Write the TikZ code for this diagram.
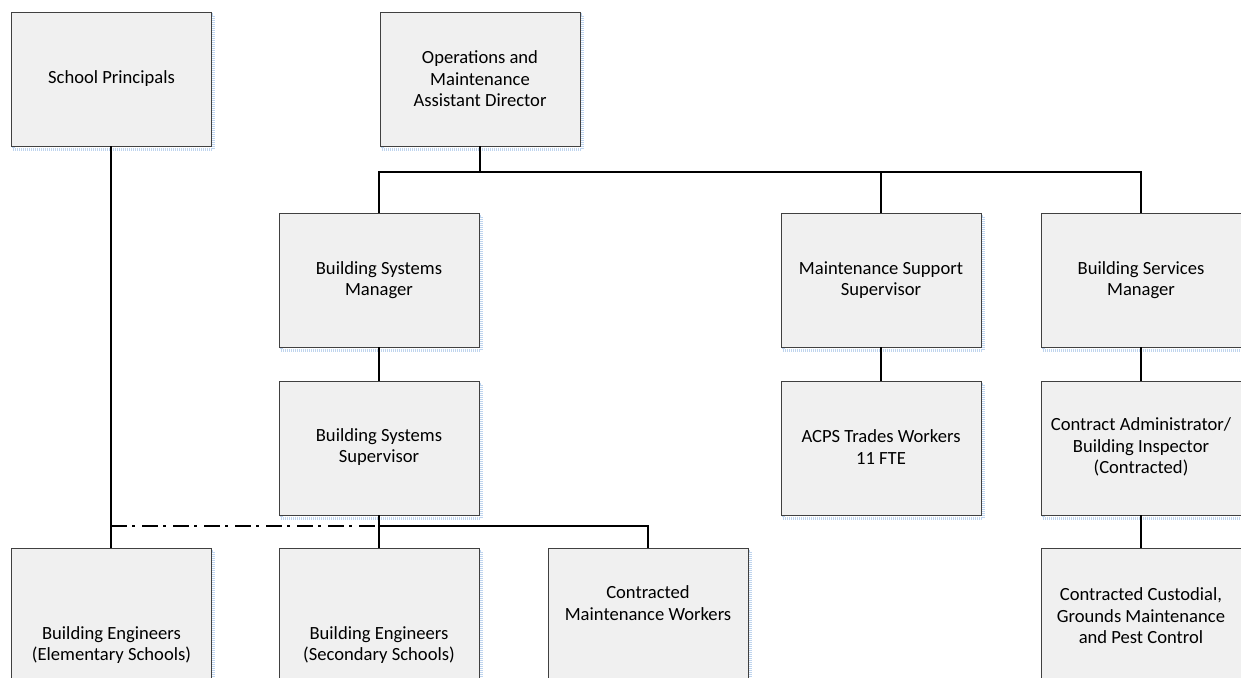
\documentclass[tikz,border=0pt]{standalone}
\usepackage{fontspec}
\setmainfont{Carlito}
\definecolor{boxfill}{RGB}{240,240,240}
\definecolor{boxline}{RGB}{64,64,64}
\definecolor{shadowblue}{RGB}{190,212,238}
\tikzset{
  orgbox/.style={draw=boxline, fill=boxfill, line width=0.8pt,
    minimum width=200pt, minimum height=#1, inner sep=0pt, outer sep=0pt,
    anchor=north west,
    preaction={draw=shadowblue, line width=3pt, dash pattern=on 1pt off 1pt,
      transform canvas={shift={(2pt,-3pt)}}}},
  orgbox/.default=134pt,
  orgtext/.style={align=center, inner sep=0pt,
    font=\fontsize{18.6}{21.5}\selectfont},
  link/.style={draw=black, line width=1.6pt},
  dotted link/.style={draw=black, line width=2.8pt,
    dash pattern=on 16pt off 5pt on 3pt off 7pt}
}
\begin{document}
\begin{tikzpicture}[x=1pt,y=-1pt]
\useasboundingbox (0,0) rectangle (1241,677);

% top row
\node[orgbox] (sp) at (11,12) {};
\node[orgtext] (spT) at (111.5,79) {School Principals};
\node[orgbox] (ops) at (380,12) {};
\node[orgtext] (opsT) at (480,79) {Operations and\\Maintenance\\Assistant Director};

% managers
\node[orgbox] (bsm) at (279,213) {};
\node[orgtext] (bsmT) at (379,280) {Building Systems\\Manager};
\node[orgbox] (mss) at (781,213) {};
\node[orgtext] (mssT) at (881,280) {Maintenance Support\\Supervisor};
\node[orgbox] (bsv) at (1041,213) {};
\node[orgtext] (bsvT) at (1141,280) {Building Services\\Manager};

% supervisors
\node[orgbox] (bss) at (279,381) {};
\node[orgtext] (bssT) at (379,447) {Building Systems\\Supervisor};
\node[orgbox] (acps) at (781,381) {};
\node[orgtext] (acpsT) at (881,447) {ACPS Trades Workers\\11 FTE};
\node[orgbox] (cadm) at (1041,381) {};
\node[orgtext] (cadmT) at (1141,447) {Contract Administrator/\\Building Inspector\\(Contracted)};

% bottom row
\node[orgbox=150pt] (bee) at (11,548) {};
\node[orgtext] (beeT) at (111.5,645) {Building Engineers\\(Elementary Schools)};
\node[orgbox=150pt] (bes) at (279,548) {};
\node[orgtext] (besT) at (379,645) {Building Engineers\\(Secondary Schools)};
\node[orgbox=150pt] (cmw) at (548,548) {};
\node[orgtext] (cmwT) at (648,603) {Contracted\\Maintenance Workers};
\node[orgbox=150pt] (ccu) at (1041,548) {};
\node[orgtext] (ccuT) at (1141,616) {Contracted Custodial,\\Grounds Maintenance\\and Pest Control};

% reporting lines
\coordinate (busL) at (379,172);
\draw[link] (ops.south) -- (ops.south |- busL);
\draw[link] (bsm.north) -- (busL) -- (bsv.north |- busL) -- (bsv.north);
\draw[link] (mss.north) -- (mss.north |- busL);
\draw[link] (bsm.south) -- (bss.north);
\draw[link] (mss.south) -- (acps.north);
\draw[link] (bsv.south) -- (cadm.north);
\draw[link] (cadm.south) -- (ccu.north);
\coordinate (split) at (379,526);
\draw[link] (bss.south) -- (bes.north);
\draw[link] (split) -- (split -| cmw.north) -- (cmw.north);
\draw[link] (sp.south) -- (bee.north);
\draw[dotted link] (bee.north |- split) -- (split);
\end{tikzpicture}
\end{document}
